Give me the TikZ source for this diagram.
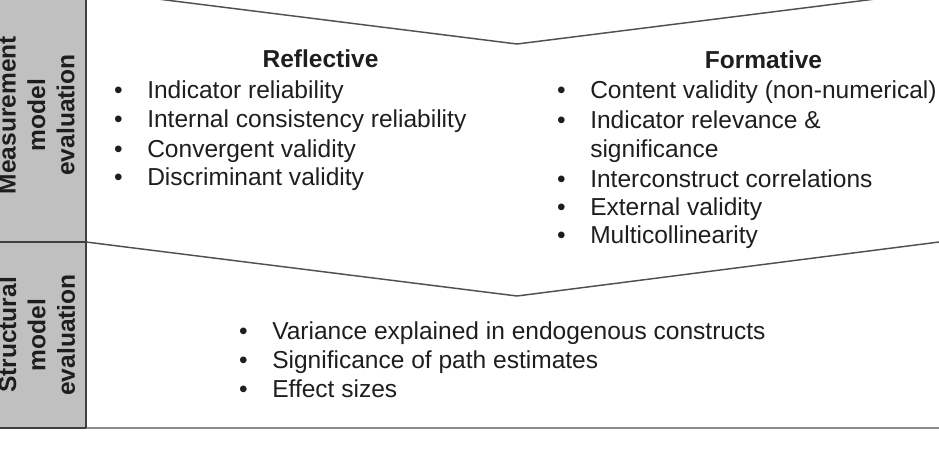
\documentclass[tikz,border=0pt]{standalone}
\usepackage{fontspec}
\setmainfont{Liberation Sans}
\definecolor{grayfill}{HTML}{C0C0C0}
\definecolor{linec}{HTML}{505050}
\definecolor{edgec}{HTML}{404040}
\definecolor{bottomc}{HTML}{8C8C8C}
\definecolor{txtc}{HTML}{1E1E1E}
\newcommand\itembul{\llap{•\hspace{1em}}}
\begin{document}
\begin{tikzpicture}[x=0.75pt,y=-0.75pt,
  txt/.style={inner sep=0pt, text=txtc, font=\fontsize{18.4}{21.8}\selectfont},
  itm/.style={txt, anchor=base west},
  hdr/.style={txt, anchor=base, font=\fontsize{18.4}{21.8}\selectfont\bfseries},
  side/.style={inner sep=0pt, rotate=90, align=center, text=txtc, font=\fontsize{18.4}{22.1}\selectfont\bfseries},
  chev/.style={draw=linec, line width=1.1pt, line join=miter},
  edgeline/.style={draw=edgec, line width=1.3pt},
  bottomline/.style={draw=bottomc, line width=1.3pt}]
\useasboundingbox (0,0) rectangle (939,451);
\clip (0,0) rectangle (939,451);
\fill[grayfill] (0,0) rectangle (86,428);
\draw[chev] (86,-10) -- (517,44) -- (939,-9);
\draw[chev] (86,242) -- (517,296) -- (939,242);
\draw[bottomline] (0,428) -- (939,428);
\draw[edgeline] (86,0) -- (86,428);
\draw[edgeline] (0,242) -- (86,242);
\draw[edgeline] (0,428) -- (86,428);
% side labels
\node[side] (meas) at (36.7,115) {Measurement\\model\\evaluation};
\node[side] (struc) at (36.7,335) {Structural\\model\\evaluation};
% reflective
\node[hdr] (reflh) at (320.5,67) {Reflective};
\node[itm] (r1) at (147,98) {\itembul Indicator reliability};
\node[itm] (r2) at (147,127) {\itembul Internal consistency reliability};
\node[itm] (r3) at (147,157) {\itembul Convergent validity};
\node[itm] (r4) at (147,185) {\itembul Discriminant validity};
% formative
\node[hdr] (formh) at (763.5,68) {Formative};
\node[itm] (f1) at (590,98) {\itembul Content validity (non-numerical)};
\node[itm] (f2) at (590,128) {\itembul Indicator relevance \&};
\node[itm] (f2b) at (590,157) {significance};
\node[itm] (f3) at (590,187) {\itembul Interconstruct correlations};
\node[itm] (f4) at (590,215) {\itembul External validity};
\node[itm] (f5) at (590,243) {\itembul Multicollinearity};
% structural
\node[itm] (s1) at (272,339) {\itembul Variance explained in endogenous constructs};
\node[itm] (s2) at (272,368) {\itembul Significance of path estimates};
\node[itm] (s3) at (272,397) {\itembul Effect sizes};
\end{tikzpicture}
\end{document}
